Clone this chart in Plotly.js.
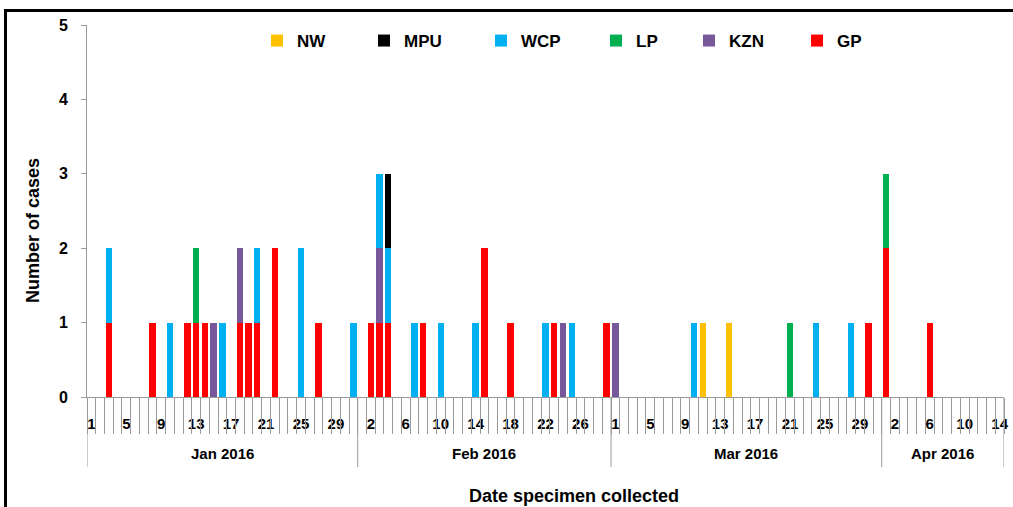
<!DOCTYPE html>
<html>
<head>
<meta charset="utf-8">
<script src="https://cdn.plot.ly/plotly-3.0.1.min.js"></script>
<style>html,body{margin:0;padding:0;background:#fff;}#chart{width:1013px;height:507px;}</style>
</head>
<body>
<div id="chart"></div>
<script>
// ---- data ----
const startDate = '2016-01-01';
const monthNames = ['Jan 2016', 'Feb 2016', 'Mar 2016', 'Apr 2016'];
const monthLengths = [31, 29, 31, 14];
const tickText = ['1','5','9','13','17','21','25','29','2','6','10','14','18','22','26','1','5','9','13','17','21','25','29','2','6','10','14'];

const gpDates = ['2016-01-03','2016-01-08','2016-01-12','2016-01-13','2016-01-14','2016-01-18','2016-01-19','2016-01-20','2016-01-22','2016-01-27','2016-02-02','2016-02-03','2016-02-04','2016-02-08','2016-02-15','2016-02-18','2016-02-23','2016-02-29','2016-03-30','2016-04-01','2016-04-06'];
const gpCases = [1,1,1,1,1,1,1,1,2,1,1,1,1,1,2,1,1,1,1,2,1];

const kznDates = ['2016-01-15','2016-01-18','2016-02-03','2016-02-24','2016-03-01'];
const kznCases = [1,1,1,1,1];

const lpDates = ['2016-01-13','2016-03-21','2016-04-01'];
const lpCases = [1,1,1];

const wcpDates = ['2016-01-03','2016-01-10','2016-01-16','2016-01-20','2016-01-25','2016-01-31','2016-02-03','2016-02-04','2016-02-07','2016-02-10','2016-02-14','2016-02-22','2016-02-25','2016-03-10','2016-03-24','2016-03-28'];
const wcpCases = [1,1,1,1,2,1,1,1,1,1,1,1,1,1,1,1];

const mpuDates = ['2016-02-04'];
const mpuCases = [1];

const nwDates = ['2016-03-11','2016-03-14'];
const nwCases = [1,1];

// ---- helpers ----
function dayIndex(s) {
  const p = s.split('-').map(Number);
  const q = startDate.split('-').map(Number);
  return Math.round((Date.UTC(p[0], p[1]-1, p[2]) - Date.UTC(q[0], q[1]-1, q[2])) / 86400000);
}
const totalDays = monthLengths.reduce((a,b)=>a+b, 0);
const boundaries = [];
for (let i = 0; i <= totalDays; i++) boundaries.push(i - 0.5);
const tickVals = tickText.map((_, i) => i * 4);
const monthEdges = [-0.5];
monthLengths.forEach(l => monthEdges.push(monthEdges[monthEdges.length-1] + l));
const monthMids = monthNames.map((_, i) => (monthEdges[i] + monthEdges[i+1]) / 2);

const FONT = 'Liberation Sans, Arial, sans-serif';
const GRID = '#9a9a9a';

// layout geometry (pixels)
const W = 1013, H = 507, L = 87, R = 9, T = 25, B = 110;
const pw = W - L - R, ph = H - T - B;
const px2x = px => (px - L) / pw;
const py2y = py => (H - B - py) / ph;

const series = [
  {name:'GP',  dates:gpDates,  cases:gpCases,  color:'#FF0000', legend:'legend6', lx:797},
  {name:'KZN', dates:kznDates, cases:kznCases, color:'#77599A', legend:'legend5', lx:689},
  {name:'LP',  dates:lpDates,  cases:lpCases,  color:'#00B050', legend:'legend4', lx:596},
  {name:'WCP', dates:wcpDates, cases:wcpCases, color:'#00B0F0', legend:'legend3', lx:481},
  {name:'MPU', dates:mpuDates, cases:mpuCases, color:'#000000', legend:'legend2', lx:364},
  {name:'NW',  dates:nwDates,  cases:nwCases,  color:'#FFC000', legend:'legend',  lx:257}
];

const traces = series.map(s => ({
  type: 'bar',
  name: s.name,
  x: s.dates.map(dayIndex),
  y: s.cases,
  width: 0.72,
  marker: {color: s.color, line: {width: 0}},
  legend: s.legend,
  hoverinfo: 'name+y'
}));
// dummy trace so the boundary-tick axis is drawn
traces.push({type:'scatter', mode:'markers', x:[-10], y:[-10], xaxis:'x2', yaxis:'y', showlegend:false, hoverinfo:'skip', marker:{opacity:0}});

const layout = {
  width: W, height: H,
  margin: {l: L, r: R, t: T, b: B, pad: 0},
  paper_bgcolor: '#fff', plot_bgcolor: '#fff',
  barmode: 'stack',
  bargap: 0,
  font: {family: FONT, color: '#000'},
  showlegend: true,
  xaxis: {
    range: [-0.5, totalDays - 0.5],
    tickmode: 'array', tickvals: tickVals, ticktext: tickText,
    ticks: '', showgrid: false, zeroline: false,
    showline: true, linecolor: GRID, linewidth: 1,
    tickfont: {family: FONT, size: 15, weight: 'bold', color: '#000'},
    ticklabelstandoff: 13,
    fixedrange: true
  },
  xaxis2: {
    overlaying: 'x', anchor: 'y', side: 'bottom',
    range: [-0.5, totalDays - 0.5],
    tickmode: 'array', tickvals: boundaries,
    ticks: 'outside', ticklen: 36, tickwidth: 1, tickcolor: GRID,
    showticklabels: false, showgrid: false, zeroline: false, showline: false,
    fixedrange: true
  },
  yaxis: {
    range: [0, 5], dtick: 1, tick0: 0,
    ticks: 'outside', ticklen: 5, tickcolor: GRID, tickwidth: 1,
    showgrid: false, zeroline: false,
    showline: true, linecolor: GRID, linewidth: 1,
    tickfont: {family: FONT, size: 16, weight: 'bold', color: '#000'},
    ticklabelstandoff: 10,
    fixedrange: true
  },
  annotations: [],
  shapes: []
};

// separate legends positioned like the reference
series.forEach(s => {
  layout[s.legend] = {
    x: px2x(s.lx), xanchor: 'left',
    y: py2y(41), yanchor: 'middle',
    orientation: 'h', bgcolor: 'rgba(0,0,0,0)', borderwidth: 0,
    font: {family: FONT, size: 17, weight: 'bold', color: '#000'}
  };
});

// month labels
monthNames.forEach((m, i) => {
  layout.annotations.push({
    x: monthMids[i], xref: 'x', y: py2y(453), yref: 'paper',
    text: m, showarrow: false, xanchor: 'center', yanchor: 'middle',
    font: {family: FONT, size: 15, weight: 'bold', color: '#000'}
  });
});
// x title
layout.annotations.push({
  x: px2x(574), xref: 'paper', y: py2y(496), yref: 'paper',
  text: 'Date specimen collected', showarrow: false, xanchor: 'center', yanchor: 'middle',
  font: {family: FONT, size: 18, weight: 'bold', color: '#000'}
});
// y title
layout.annotations.push({
  x: px2x(33), xref: 'paper', y: py2y(231), yref: 'paper',
  text: 'Number of cases', showarrow: false, textangle: -90, xanchor: 'center', yanchor: 'middle',
  font: {family: FONT, size: 18, weight: 'bold', color: '#000'}
});

// month separator lines
monthEdges.forEach(e => {
  layout.shapes.push({type: 'line', xref: 'x', yref: 'paper', x0: e, x1: e, y0: 0, y1: py2y(467), line: {color: GRID, width: 1}});
});
// chart frame (top and left)
layout.shapes.push({type: 'line', xref: 'paper', yref: 'paper', x0: px2x(4), x1: px2x(1013), y0: py2y(10.5), y1: py2y(10.5), line: {color: '#000', width: 3}});
layout.shapes.push({type: 'line', xref: 'paper', yref: 'paper', x0: px2x(5.5), x1: px2x(5.5), y0: py2y(9), y1: py2y(507), line: {color: '#000', width: 3}});

Plotly.newPlot('chart', traces, layout, {displayModeBar: false, staticPlot: true});
</script>
</body>
</html>
